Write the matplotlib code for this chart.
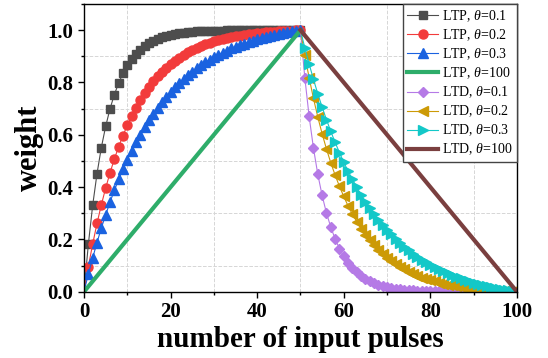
import matplotlib
matplotlib.use('Agg')
import matplotlib.pyplot as plt
from matplotlib.ticker import MultipleLocator

plt.rcParams['font.family'] = 'Liberation Serif'
plt.rcParams['mathtext.fontset'] = 'custom'
plt.rcParams['mathtext.rm'] = 'Liberation Serif'
plt.rcParams['mathtext.it'] = 'Liberation Serif:italic'

# pulse numbers: potentiation 0..50, depression 50..100
ltp_x = list(range(0, 51))
ltd_x = list(range(50, 101))

ltp_01 = [0.0, 0.181, 0.330, 0.451, 0.551, 0.632, 0.699, 0.753, 0.798, 0.835,
          0.865, 0.889, 0.909, 0.926, 0.939, 0.950, 0.959, 0.967, 0.973, 0.978,
          0.982, 0.985, 0.988, 0.990, 0.992, 0.993, 0.995, 0.996, 0.996, 0.997,
          0.998, 0.998, 0.998, 0.999, 0.999, 0.999, 0.999, 0.999, 1.0, 1.0,
          1.0, 1.0, 1.0, 1.0, 1.0, 1.0, 1.0, 1.0, 1.0, 1.0, 1.0]
ltp_02 = [0.0, 0.096, 0.182, 0.261, 0.332, 0.396, 0.454, 0.507, 0.554, 0.597,
          0.636, 0.672, 0.704, 0.732, 0.759, 0.782, 0.804, 0.823, 0.840, 0.856,
          0.871, 0.883, 0.895, 0.906, 0.915, 0.924, 0.932, 0.939, 0.946, 0.951,
          0.957, 0.961, 0.966, 0.970, 0.973, 0.976, 0.979, 0.982, 0.984, 0.986,
          0.988, 0.990, 0.992, 0.993, 0.994, 0.996, 0.997, 0.998, 0.998, 0.999, 1.0]
ltp_03 = [0.0, 0.067, 0.129, 0.188, 0.243, 0.294, 0.342, 0.387, 0.429, 0.468,
          0.505, 0.539, 0.571, 0.601, 0.629, 0.656, 0.680, 0.703, 0.725, 0.745,
          0.764, 0.781, 0.798, 0.813, 0.828, 0.841, 0.854, 0.866, 0.877, 0.887,
          0.897, 0.906, 0.914, 0.922, 0.930, 0.936, 0.943, 0.949, 0.955, 0.960,
          0.965, 0.970, 0.974, 0.978, 0.982, 0.985, 0.989, 0.992, 0.995, 0.997, 1.0]
ltp_lin_x = [0, 50]
ltp_lin = [0.0, 1.0]

ltd_01 = [1.0, 0.819, 0.670, 0.549, 0.449, 0.368, 0.301, 0.247, 0.202, 0.165,
          0.135, 0.111, 0.091, 0.074, 0.061, 0.050, 0.041, 0.033, 0.027, 0.022,
          0.018, 0.015, 0.012, 0.010, 0.008, 0.007, 0.005, 0.004, 0.004, 0.003,
          0.002, 0.002, 0.002, 0.001, 0.001, 0.001, 0.001, 0.001, 0.0, 0.0,
          0.0, 0.0, 0.0, 0.0, 0.0, 0.0, 0.0, 0.0, 0.0, 0.0, 0.0]
ltd_02 = [1.0, 0.904, 0.818, 0.739, 0.668, 0.604, 0.546, 0.493, 0.446, 0.403,
          0.364, 0.328, 0.296, 0.268, 0.241, 0.218, 0.196, 0.177, 0.160, 0.144,
          0.129, 0.117, 0.105, 0.094, 0.085, 0.076, 0.068, 0.061, 0.054, 0.049,
          0.043, 0.039, 0.034, 0.030, 0.027, 0.024, 0.021, 0.018, 0.016, 0.014,
          0.012, 0.010, 0.008, 0.007, 0.006, 0.004, 0.003, 0.002, 0.002, 0.001, 0.0]
ltd_03 = [1.0, 0.933, 0.871, 0.812, 0.757, 0.706, 0.658, 0.613, 0.571, 0.532,
          0.495, 0.461, 0.429, 0.399, 0.371, 0.344, 0.320, 0.297, 0.275, 0.255,
          0.236, 0.219, 0.202, 0.187, 0.172, 0.159, 0.146, 0.134, 0.123, 0.113,
          0.103, 0.094, 0.086, 0.078, 0.070, 0.064, 0.057, 0.051, 0.045, 0.040,
          0.035, 0.030, 0.026, 0.022, 0.018, 0.015, 0.011, 0.008, 0.005, 0.003, 0.0]
ltd_lin_x = [50, 100]
ltd_lin = [1.0, 0.0]

fig = plt.figure(figsize=(5.48, 3.58), dpi=100, facecolor='w')
ax = fig.add_axes([0.1533, 0.1852, 0.790, 0.8036])

skip0 = slice(1, None)
ax.plot(ltp_x, ltp_01, color='#4d4d4d', lw=0.8, marker='s', ms=5.5, markevery=skip0,
        label=r'LTP, $\theta$=0.1')
ax.plot(ltp_x, ltp_02, color='#f23b3b', lw=0.8, marker='o', ms=6.5, markevery=skip0,
        label=r'LTP, $\theta$=0.2')
ax.plot(ltp_x, ltp_03, color='#1a62e0', lw=0.8, marker='^', ms=7, markevery=skip0,
        label=r'LTP, $\theta$=0.3')
ax.plot(ltp_lin_x, ltp_lin, color='#2ead6a', lw=3, label=r'LTP, $\theta$=100')
ax.plot(ltd_x, ltd_01, color='#b57ae6', lw=0.8, marker='D', ms=5.5, markevery=skip0,
        label=r'LTD, $\theta$=0.1')
ax.plot(ltd_x, ltd_02, color='#cc9a06', lw=0.8, marker='<', ms=7, markevery=skip0,
        label=r'LTD, $\theta$=0.2')
ax.plot(ltd_x, ltd_03, color='#13c8c8', lw=0.8, marker='>', ms=7, markevery=skip0,
        label=r'LTD, $\theta$=0.3')
ax.plot(ltd_lin_x, ltd_lin, color='#7a3f3f', lw=3, label=r'LTD, $\theta$=100')

ax.set_xlim(0, 100)
ax.set_ylim(0, 1.1)
ax.xaxis.set_major_locator(MultipleLocator(20))
ax.xaxis.set_minor_locator(MultipleLocator(10))
ax.yaxis.set_major_locator(MultipleLocator(0.2))
ax.yaxis.set_minor_locator(MultipleLocator(0.1))
ax.yaxis.set_major_formatter(lambda v, p: '%.1f' % v)

ax.grid(which='minor', color='#d6d6d6', ls='--', lw=0.7)
ax.set_axisbelow(True)
ax.tick_params(which='major', direction='out', length=4, width=1, labelsize=15)
ax.tick_params(which='minor', direction='out', length=2.5, width=1)
for lab in ax.get_xticklabels() + ax.get_yticklabels():
    lab.set_fontweight('bold')
for s in ax.spines.values():
    s.set_linewidth(1)

ax.set_xlabel('number of input pulses', fontsize=21, fontweight='bold', labelpad=3)
ax.set_ylabel('weight', fontsize=22, fontweight='bold', labelpad=3)

leg = ax.legend(loc='upper right', fontsize=10, borderaxespad=0, fancybox=False,
                framealpha=1, edgecolor='#444444', handlelength=2.2,
                handletextpad=0.3, labelspacing=0.25, borderpad=0.3)
leg.get_frame().set_linewidth(1)

plt.savefig('out.png', dpi=100)
